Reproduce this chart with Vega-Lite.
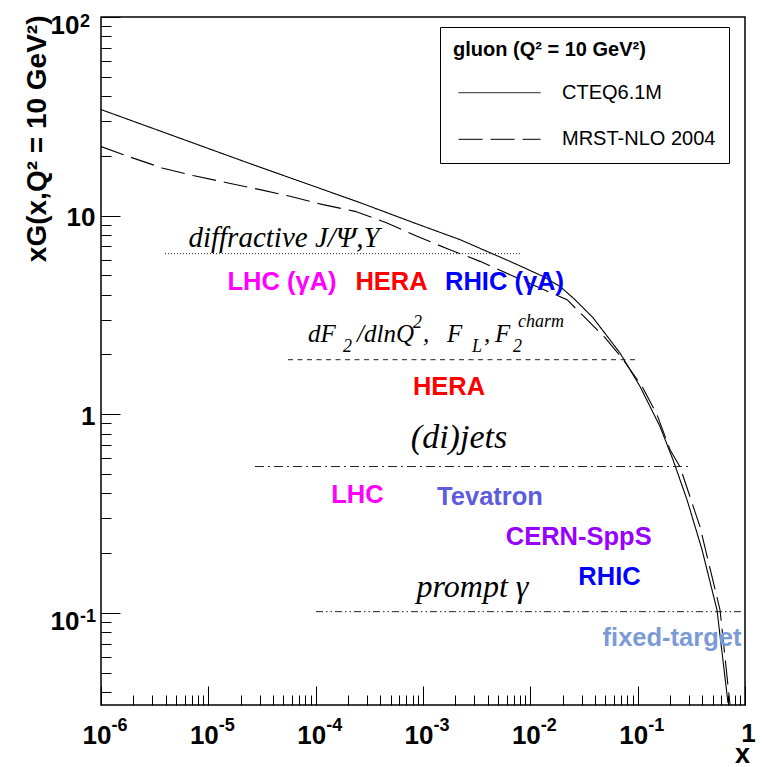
{
  "$schema": "https://vega.github.io/schema/vega-lite/v6.json",
  "width": 644,
  "height": 688,
  "autosize": "none",
  "padding": {"left": 101, "top": 17, "right": 18, "bottom": 62},
  "background": "white",
  "config": {
    "view": {"stroke": "black", "strokeWidth": 1.5},
    "font": "Liberation Sans",
    "axis": {"domain": false, "grid": false, "tickColor": "black", "tickWidth": 1, "labelColor": "black",
             "labelFont": "Liberation Sans", "labelFontWeight": "bold", "labelFlush": false, "labelOverlap": false, "labelBound": false}
  },
  "datasets": {
    "curves": [
      {"pdf": "CTEQ6.1M", "x": 0.000001, "y": 34.2},
      {"pdf": "CTEQ6.1M", "x": 0.00002444, "y": 18.28},
      {"pdf": "CTEQ6.1M", "x": 0.0002588, "y": 11.63},
      {"pdf": "CTEQ6.1M", "x": 0.0007568, "y": 9.36},
      {"pdf": "CTEQ6.1M", "x": 0.002212, "y": 7.57},
      {"pdf": "CTEQ6.1M", "x": 0.006465, "y": 5.886},
      {"pdf": "CTEQ6.1M", "x": 0.01313, "y": 4.946},
      {"pdf": "CTEQ6.1M", "x": 0.01891, "y": 4.404},
      {"pdf": "CTEQ6.1M", "x": 0.02609, "y": 3.775},
      {"pdf": "CTEQ6.1M", "x": 0.03838, "y": 3.063},
      {"pdf": "CTEQ6.1M", "x": 0.06849, "y": 2.034},
      {"pdf": "CTEQ6.1M", "x": 0.1052, "y": 1.381},
      {"pdf": "CTEQ6.1M", "x": 0.1615, "y": 0.868},
      {"pdf": "CTEQ6.1M", "x": 0.2135, "y": 0.59},
      {"pdf": "CTEQ6.1M", "x": 0.2884, "y": 0.371},
      {"pdf": "CTEQ6.1M", "x": 0.3982, "y": 0.2077},
      {"pdf": "CTEQ6.1M", "x": 0.5485, "y": 0.1035},
      {"pdf": "CTEQ6.1M", "x": 0.6946, "y": 0.0352},
      {"pdf": "MRST-NLO 2004", "x": 0.000001, "y": 22.27},
      {"pdf": "MRST-NLO 2004", "x": 0.000001785, "y": 19.89},
      {"pdf": "MRST-NLO 2004", "x": 0.000003702, "y": 17.39},
      {"pdf": "MRST-NLO 2004", "x": 0.000007197, "y": 15.91},
      {"pdf": "MRST-NLO 2004", "x": 0.00001525, "y": 14.61},
      {"pdf": "MRST-NLO 2004", "x": 0.0000303, "y": 13.52},
      {"pdf": "MRST-NLO 2004", "x": 0.00005765, "y": 12.51},
      {"pdf": "MRST-NLO 2004", "x": 0.000117, "y": 11.36},
      {"pdf": "MRST-NLO 2004", "x": 0.0002326, "y": 10.51},
      {"pdf": "MRST-NLO 2004", "x": 0.000462, "y": 9.19},
      {"pdf": "MRST-NLO 2004", "x": 0.0008795, "y": 7.865},
      {"pdf": "MRST-NLO 2004", "x": 0.00171, "y": 6.796},
      {"pdf": "MRST-NLO 2004", "x": 0.003397, "y": 5.886},
      {"pdf": "MRST-NLO 2004", "x": 0.006465, "y": 5.044},
      {"pdf": "MRST-NLO 2004", "x": 0.01231, "y": 4.323},
      {"pdf": "MRST-NLO 2004", "x": 0.02197, "y": 3.775},
      {"pdf": "MRST-NLO 2004", "x": 0.03097, "y": 3.135},
      {"pdf": "MRST-NLO 2004", "x": 0.04965, "y": 2.429},
      {"pdf": "MRST-NLO 2004", "x": 0.0715, "y": 1.919},
      {"pdf": "MRST-NLO 2004", "x": 0.1098, "y": 1.381},
      {"pdf": "MRST-NLO 2004", "x": 0.1515, "y": 0.9942},
      {"pdf": "MRST-NLO 2004", "x": 0.2002, "y": 0.6628},
      {"pdf": "MRST-NLO 2004", "x": 0.2481, "y": 0.5439},
      {"pdf": "MRST-NLO 2004", "x": 0.3811, "y": 0.2711},
      {"pdf": "MRST-NLO 2004", "x": 0.5853, "y": 0.1035},
      {"pdf": "MRST-NLO 2004", "x": 0.7255, "y": 0.0344}
    ],
    "ranges": [
      {"style": "dotted", "x": 0.000003947, "x2": 0.008013, "y": 6.437},
      {"style": "dashed", "x": 0.00005525, "x2": 0.1008, "y": 1.883},
      {"style": "dashdot", "x": 0.00002721, "x2": 0.3209, "y": 0.5458},
      {"style": "dashdotdot", "x": 0.0001007, "x2": 0.958, "y": 0.1015}
    ],
    "experiments": [
      {"experiment": "LHC", "label": "LHC (γA)", "x": 0.00004858, "y": 4.239},
      {"experiment": "HERA", "label": "HERA", "x": 0.0005088, "y": 4.239},
      {"experiment": "RHIC", "label": "RHIC (γA)", "x": 0.005745, "y": 4.239},
      {"experiment": "HERA", "label": "HERA", "x": 0.001747, "y": 1.254},
      {"experiment": "LHC", "label": "LHC", "x": 0.0002453, "y": 0.3594},
      {"experiment": "Tevatron", "label": "Tevatron", "x": 0.00421, "y": 0.3499},
      {"experiment": "CERN-SppS", "label": "CERN-SppS", "x": 0.02823, "y": 0.2202},
      {"experiment": "RHIC", "label": "RHIC", "x": 0.05464, "y": 0.1384},
      {"experiment": "fixed-target", "label": "fixed-target", "x": 0.2089, "y": 0.06844}
    ],
    "diffr": [{"label": "diffractive J/Ψ,Υ", "x": 0.0000507, "y": 6.98}],
    "jets": [{"label": "(di)jets", "x": 0.002165, "y": 0.6757}],
    "prompt": [{"label": "prompt γ", "x": 0.002892, "y": 0.1208}],
    "formulaMain": [
      {"label": "dF", "x": 0.00008484, "y": 2.318},
      {"label": "/dlnQ", "x": 0.0002428, "y": 2.318},
      {"label": ",", "x": 0.001, "y": 2.318},
      {"label": "F", "x": 0.001674, "y": 2.318},
      {"label": ",", "x": 0.003702, "y": 2.318},
      {"label": "F", "x": 0.004688, "y": 2.318}
    ],
    "formulaSmall": [
      {"label": "2", "x": 0.0001798, "y": 2.065},
      {"label": "2", "x": 0.000807, "y": 2.728},
      {"label": "L", "x": 0.002861, "y": 2.065},
      {"label": "2", "x": 0.006898, "y": 2.065},
      {"label": "charm", "x": 0.00768, "y": 2.76}
    ]
  },
  "resolve": {"scale": {"strokeDash": "independent"}, "axis": {"x": "independent", "y": "independent"}},
  "layer": [
    {
      "data": {"name": "curves"},
      "mark": {"type": "line", "clip": true, "strokeWidth": 1.1, "color": "black"},
      "encoding": {
        "x": {
          "field": "x", "type": "quantitative",
          "scale": {"type": "log", "domain": [0.000001, 1], "nice": false},
          "axis": {
            "orient": "bottom",
            "values": [0.000001, 0.00001, 0.0001, 0.001, 0.01, 0.1, 1],
            "tickSize": -19, "labels": false,
            "title": "x", "titleFont": "Liberation Sans", "titleFontWeight": "bold", "titleFontSize": 27, "titleColor": "black",
            "titleX": 641, "titleY": 57, "titleAlign": "center", "titleBaseline": "alphabetic", "titleAnchor": "end"
          }
        },
        "y": {
          "field": "y", "type": "quantitative",
          "scale": {"type": "log", "domain": [0.0344, 100], "nice": false},
          "axis": {
            "orient": "left",
            "values": [0.1, 1, 10, 100],
            "tickSize": -19, "labels": false,
            "title": "xG(x,Q² = 10 GeV²)", "titleFont": "Liberation Sans", "titleFontWeight": "bold", "titleFontSize": 28, "titleColor": "black",
            "titleAngle": 270, "titleX": -56, "titleY": -2, "titleAlign": "right", "titleBaseline": "alphabetic", "titleAnchor": "end"
          }
        },
        "strokeDash": {
          "field": "pdf", "type": "nominal",
          "scale": {"domain": ["CTEQ6.1M", "MRST-NLO 2004"], "range": [[1, 0], [24, 8]]},
          "legend": {
            "title": "gluon (Q² = 10 GeV²)",
            "orient": "none", "legendX": 339, "legendY": 10,
            "titleFont": "Liberation Sans", "titleFontWeight": "bold", "titleFontSize": 20, "titleColor": "black", "titlePadding": 23.7, "titleLimit": 400,
            "labelFont": "Liberation Sans", "labelFontSize": 20, "labelColor": "black", "labelOffset": 21, "labelLimit": 400,
            "labelExpr": "datum.label + '\u00a0'",
            "symbolType": "stroke", "symbolSize": 6724, "symbolStrokeColor": "black", "symbolStrokeWidth": 1, "symbolOffset": 5,
            "clipHeight": 18, "rowPadding": 26.6, "padding": 13,
            "fillColor": "white", "strokeColor": "black"
          }
        }
      }
    },
    {
      "data": {"name": "ranges"},
      "mark": {"type": "rule", "strokeWidth": 1, "color": "#222222"},
      "encoding": {
        "x": {
          "field": "x", "type": "quantitative", "scale": {"type": "log", "domain": [0.000001, 1], "nice": false},
          "axis": {
            "orient": "bottom",
            "values": [0.000002, 0.000003, 0.000004, 0.000005, 0.000006, 0.000007, 0.000008, 0.000009,
                       0.00002, 0.00003, 0.00004, 0.00005, 0.00006, 0.00007, 0.00008, 0.00009,
                       0.0002, 0.0003, 0.0004, 0.0005, 0.0006, 0.0007, 0.0008, 0.0009,
                       0.002, 0.003, 0.004, 0.005, 0.006, 0.007, 0.008, 0.009,
                       0.02, 0.03, 0.04, 0.05, 0.06, 0.07, 0.08, 0.09,
                       0.2, 0.3, 0.4, 0.5, 0.6, 0.7, 0.8, 0.9],
            "tickSize": -10, "labels": false, "title": null
          }
        },
        "x2": {"field": "x2"},
        "y": {
          "field": "y", "type": "quantitative", "scale": {"type": "log", "domain": [0.0344, 100], "nice": false},
          "axis": {
            "orient": "left",
            "values": [0.04, 0.05, 0.06, 0.07, 0.08, 0.09,
                       0.2, 0.3, 0.4, 0.5, 0.6, 0.7, 0.8, 0.9,
                       2, 3, 4, 5, 6, 7, 8, 9,
                       20, 30, 40, 50, 60, 70, 80, 90],
            "tickSize": -10, "labels": false, "title": null
          }
        },
        "strokeDash": {
          "field": "style", "type": "nominal", "legend": null,
          "scale": {"domain": ["dotted", "dashed", "dashdot", "dashdotdot"],
                    "range": [[1, 2], [5, 4.5], [9, 4, 2, 4], [7, 3, 1.5, 3, 1.5, 3]]}
        }
      }
    },
    {
      "data": {"name": "experiments"},
      "mark": {"type": "text", "font": "Liberation Sans", "fontWeight": "bold", "fontSize": 25.5, "align": "center", "baseline": "alphabetic"},
      "encoding": {
        "x": {
          "field": "x", "type": "quantitative", "scale": {"type": "log", "domain": [0.000001, 1], "nice": false},
          "axis": {
            "orient": "bottom", "values": [0.000001, 0.00001, 0.0001, 0.001, 0.01, 0.1],
            "labelExpr": "'10'", "ticks": false, "title": null,
            "labelFontSize": 26, "labelAlign": "right", "labelBaseline": "top", "labelOffset": 10, "labelPadding": 17
          }
        },
        "y": {
          "field": "y", "type": "quantitative", "scale": {"type": "log", "domain": [0.0344, 100], "nice": false},
          "axis": {
            "orient": "left", "values": [1, 10],
            "labelExpr": "datum.value == 10 ? '10' : '1'", "ticks": false, "title": null,
            "labelFontSize": 26, "labelAlign": "right", "labelBaseline": "middle", "labelOffset": 2, "labelPadding": 6
          }
        },
        "text": {"field": "label"},
        "color": {
          "field": "experiment", "type": "nominal", "legend": null,
          "scale": {"domain": ["LHC", "HERA", "RHIC", "Tevatron", "CERN-SppS", "fixed-target"],
                    "range": ["#ff00ff", "#ff0000", "#0000ff", "#5c5cdc", "#9900ff", "#7b9ad6"]}
        }
      }
    },
    {
      "data": {"name": "diffr"},
      "mark": {"type": "text", "font": "Liberation Serif", "fontStyle": "italic", "fontSize": 29, "align": "center", "baseline": "alphabetic", "color": "black"},
      "encoding": {
        "x": {
          "field": "x", "type": "quantitative", "scale": {"type": "log", "domain": [0.000001, 1], "nice": false},
          "axis": {
            "orient": "bottom", "values": [0.000001, 0.00001, 0.0001, 0.001, 0.01, 0.1],
            "labelExpr": "datum.value == 0.1 ? '-1' : datum.value == 0.01 ? '-2' : datum.value == 0.001 ? '-3' : datum.value == 0.0001 ? '-4' : datum.value == 0.00001 ? '-5' : '-6'",
            "ticks": false, "title": null,
            "labelFontSize": 18, "labelAlign": "left", "labelBaseline": "top", "labelOffset": 10, "labelPadding": 11
          }
        },
        "y": {
          "field": "y", "type": "quantitative", "scale": {"type": "log", "domain": [0.0344, 100], "nice": false},
          "axis": {
            "orient": "left", "values": [0.1, 100],
            "labelExpr": "datum.value == 100 ? '2' : '-1'", "ticks": false, "title": null,
            "labelFontSize": 18, "labelAlign": "left", "labelBaseline": "middle", "labelOffset": 4, "labelPadding": 21.5
          }
        },
        "text": {"field": "label"}
      }
    },
    {
      "data": {"name": "jets"},
      "mark": {"type": "text", "font": "Liberation Serif", "fontStyle": "italic", "fontSize": 34, "align": "center", "baseline": "alphabetic", "color": "black"},
      "encoding": {
        "x": {
          "field": "x", "type": "quantitative", "scale": {"type": "log", "domain": [0.000001, 1], "nice": false},
          "axis": {
            "orient": "bottom", "values": [1],
            "labelExpr": "'1'", "ticks": false, "title": null,
            "labelFontSize": 26, "labelAlign": "center", "labelBaseline": "top", "labelOffset": 3, "labelPadding": 15
          }
        },
        "y": {
          "field": "y", "type": "quantitative", "scale": {"type": "log", "domain": [0.0344, 100], "nice": false},
          "axis": {
            "orient": "left", "values": [0.1, 100],
            "labelExpr": "'10'", "ticks": false, "title": null,
            "labelFontSize": 26, "labelAlign": "right", "labelBaseline": "middle", "labelOffset": 8.5, "labelPadding": 22
          }
        },
        "text": {"field": "label"}
      }
    },
    {
      "data": {"name": "prompt"},
      "mark": {"type": "text", "font": "Liberation Serif", "fontStyle": "italic", "fontSize": 32, "align": "center", "baseline": "alphabetic", "color": "black"},
      "encoding": {
        "x": {"field": "x", "type": "quantitative", "scale": {"type": "log", "domain": [0.000001, 1], "nice": false}, "axis": null},
        "y": {"field": "y", "type": "quantitative", "scale": {"type": "log", "domain": [0.0344, 100], "nice": false}, "axis": null},
        "text": {"field": "label"}
      }
    },
    {
      "data": {"name": "formulaMain"},
      "mark": {"type": "text", "font": "Liberation Serif", "fontStyle": "italic", "fontSize": 25, "align": "left", "baseline": "alphabetic", "color": "black"},
      "encoding": {
        "x": {"field": "x", "type": "quantitative", "scale": {"type": "log", "domain": [0.000001, 1], "nice": false}, "axis": null},
        "y": {"field": "y", "type": "quantitative", "scale": {"type": "log", "domain": [0.0344, 100], "nice": false}, "axis": null},
        "text": {"field": "label"}
      }
    },
    {
      "data": {"name": "formulaSmall"},
      "mark": {"type": "text", "font": "Liberation Serif", "fontStyle": "italic", "fontSize": 18, "align": "left", "baseline": "alphabetic", "color": "black"},
      "encoding": {
        "x": {"field": "x", "type": "quantitative", "scale": {"type": "log", "domain": [0.000001, 1], "nice": false}, "axis": null},
        "y": {"field": "y", "type": "quantitative", "scale": {"type": "log", "domain": [0.0344, 100], "nice": false}, "axis": null},
        "text": {"field": "label"}
      }
    }
  ]
}
